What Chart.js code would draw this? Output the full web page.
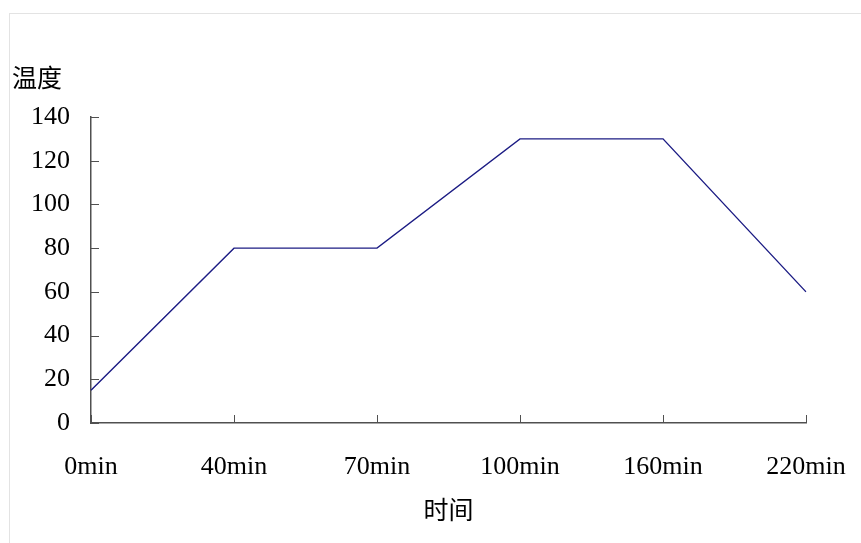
<!DOCTYPE html>
<html>
<head>
<meta charset="utf-8">
<script src="https://cdn.jsdelivr.net/npm/chart.js"></script>
<style>
  body { margin: 0; background: #fff; }
  #moldura { position: absolute; left: 9px; top: 13px; width: 900px; height: 600px; border: 1px solid #e3e3e3; }
  #grafico { position: absolute; left: 0; top: 0; }
</style>
</head>
<body>
<div id="moldura"></div>
<canvas id="grafico" width="861" height="543"></canvas>
<script>
// categorias do eixo x
var tempos = ['0min', '40min', '70min', '100min', '160min', '220min'];
// temperatura lida em cada tempo
var temperaturas = [15, 80, 80, 130, 130, 60];
// escala do eixo y
var yMin = 0;
var yMax = 140;
var yPasso = 20;

var fonteNum = { family: '"Liberation Serif", serif', size: 26 };
var fonteCJK = { family: '"Noto Sans CJK SC", sans-serif', size: 25, weight: 'normal' };
var corEixo = '#505050';

// marcas dos eixos para dentro da area do grafico
var marcasInternas = {
  id: 'marcasInternas',
  afterDraw: function (chart) {
    var ctx = chart.ctx;
    var sx = chart.scales.x, sy = chart.scales.y;
    ctx.save();
    ctx.strokeStyle = corEixo;
    ctx.lineWidth = 1;
    ctx.beginPath();
    sy.ticks.forEach(function (t, i) {
      var py = Math.round(sy.getPixelForTick(i)) + 0.5;
      ctx.moveTo(sy.right, py);
      ctx.lineTo(sy.right + 8, py);
    });
    sx.ticks.forEach(function (t, i) {
      var px = Math.round(sx.getPixelForTick(i)) + 0.5;
      ctx.moveTo(px, sx.top);
      ctx.lineTo(px, sx.top - 8);
    });
    ctx.stroke();
    ctx.restore();
  }
};

var ctx = document.getElementById('grafico').getContext('2d');
var chart = new Chart(ctx, {
  type: 'line',
  data: {
    labels: tempos,
    datasets: [
      {
        label: '温度',
        data: temperaturas,
        borderColor: '#1c1c84',
        backgroundColor: '#1c1c84',
        borderWidth: 1.4,
        pointRadius: 0,
        tension: 0
      }
    ]
  },
  options: {
    responsive: false,
    animation: false,
    layout: { padding: { left: 12, top: 62, right: 55, bottom: 9 } },
    plugins: {
      legend: { display: false },
      tooltip: { enabled: false },
      title: {
        display: true,
        text: '温度',
        align: 'start',
        color: '#000',
        font: fonteCJK,
        padding: { top: 0, bottom: 25 }
      }
    },
    scales: {
      x: {
        offset: false,
        grid: { display: true, drawOnChartArea: false, drawTicks: false },
        border: { display: true, color: corEixo, width: 1.5 },
        ticks: { color: '#000', font: fonteNum, padding: 29, maxRotation: 0, autoSkip: false },
        title: { display: true, text: '时间', color: '#000', font: fonteCJK, padding: { top: 0, bottom: 10 } },
        afterFit: function (scale) {
          scale.height = 111;
          // o ultimo rotulo pode sair da area, como no original
          scale.paddingLeft = 0;
          scale.paddingRight = 0;
        }
      },
      y: {
        min: yMin,
        max: yMax,
        grid: { display: true, drawOnChartArea: false, drawTicks: false },
        border: { display: true, color: corEixo, width: 1.5 },
        ticks: { stepSize: yPasso, color: '#000', font: fonteNum, padding: 21 },
        afterFit: function (scale) { scale.width = 79; }
      }
    }
  },
  plugins: [marcasInternas]
});
</script>
</body>
</html>
